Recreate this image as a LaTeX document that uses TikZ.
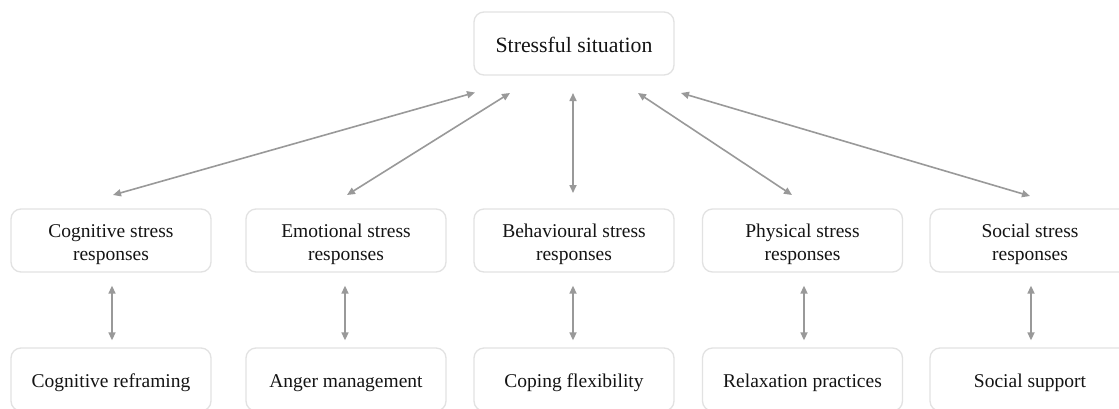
\documentclass[tikz,border=0pt]{standalone}
\usepackage{fontspec}
\setmainfont{Liberation Serif}
\usetikzlibrary{arrows.meta}
\definecolor{boxline}{HTML}{E2E2E2}
\definecolor{arrowc}{HTML}{999999}
\definecolor{txt}{HTML}{141414}
\begin{document}
\begin{tikzpicture}[x=1pt,y=-1pt,
  box/.style={draw=boxline, line width=1.3pt, rounded corners=10pt, minimum width=200pt, minimum height=63pt, inner sep=0pt, text=txt, align=center},
  topbox/.style={box, font=\fontsize{21.8}{26}\selectfont, text height=21.6pt, text depth=4pt},
  midbox/.style={box, font=\fontsize{19.5}{22.5}\selectfont, text height=43pt, text depth=4pt},
  lowbox/.style={box, font=\fontsize{19.5}{24}\selectfont, text height=20.7pt, text depth=4.3pt},
  conn/.style={draw=arrowc, line width=1.6pt, {Triangle[length=8pt,width=7pt]}-{Triangle[length=8pt,width=7pt]}}
]
\clip (0,0) rectangle (1119,408);
\fill[white] (0,0) rectangle (1119,408);

\node[topbox] (top) at (574,43.5) {Stressful situation};

\node[midbox] (m1) at (111,240.5) {Cognitive stress\\responses};
\node[midbox] (m2) at (346,240.5) {Emotional stress\\responses};
\node[midbox] (m3) at (574,240.5) {Behavioural stress\\responses};
\node[midbox] (m4) at (802.5,240.5) {Physical stress\\responses};
\node[midbox] (m5) at (1030,240.5) {Social stress\\responses};

\node[lowbox] (l1) at (111,379.5) {Cognitive reframing};
\node[lowbox] (l2) at (346,379.5) {Anger management};
\node[lowbox] (l3) at (574,379.5) {Coping flexibility};
\node[lowbox] (l4) at (802.5,379.5) {Relaxation practices};
\node[lowbox] (l5) at (1030,379.5) {Social support};

% arrow end points
\coordinate (t1) at (475,92.5);
\coordinate (t2) at (510,93);
\coordinate (t3) at (573,93);
\coordinate (t4) at (638,93);
\coordinate (t5) at (681,93);
\coordinate (b1) at (113,195);
\coordinate (b2) at (347,195);
\coordinate (b3) at (573,193);
\coordinate (b4) at (792,195);
\coordinate (b5) at (1030,196);

\draw[conn] (t1) -- (b1);
\draw[conn] (t2) -- (b2);
\draw[conn] (t3) -- (b3);
\draw[conn] (t4) -- (b4);
\draw[conn] (t5) -- (b5);

\draw[conn] ([yshift=-13pt]m1.south -| 112,0) -- ([yshift=7pt]l1.north -| 112,0);
\draw[conn] ([yshift=-13pt]m2.south -| 345,0) -- ([yshift=7pt]l2.north -| 345,0);
\draw[conn] ([yshift=-13pt]m3.south -| 573,0) -- ([yshift=7pt]l3.north -| 573,0);
\draw[conn] ([yshift=-13pt]m4.south -| 804,0) -- ([yshift=7pt]l4.north -| 804,0);
\draw[conn] ([yshift=-13pt]m5.south -| 1031,0) -- ([yshift=7pt]l5.north -| 1031,0);
\end{tikzpicture}
\end{document}
